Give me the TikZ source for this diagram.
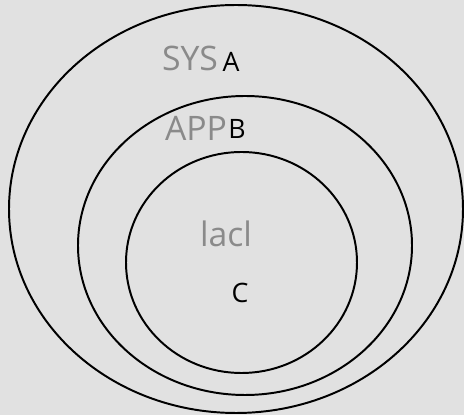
\documentclass[tikz,border=0pt]{standalone}
\usepackage{fontspec}
\setsansfont{Open Sans}
\usepackage{xcolor}
\usepackage{tikz}
\usetikzlibrary{shapes.geometric, positioning}
\definecolor{paper}{HTML}{E1E1E1}
\definecolor{pencil}{HTML}{8A8A8A}

\begin{document}
\begin{tikzpicture}[
    ring/.style={ellipse, draw, line width=1.4pt, inner sep=0pt, outer sep=0pt},
    letter/.style={font=\sffamily\fontsize{19}{22}\selectfont, inner sep=0pt},
    scribble/.style={font=\sffamily\fontsize{24}{28}\selectfont, text=pencil, inner sep=0pt}
]

% Background
\fill[paper] (0,0) rectangle (11.6,-10.375);
\useasboundingbox (0,0) rectangle (11.6,-10.375);

% Rings
\node[ring, minimum width=11.35cm, minimum height=10.2cm] (sys) at (5.9,-5.225) {};
\node[ring, minimum width=8.35cm, minimum height=7.475cm] (app) at (6.125,-6.1375) {};
\node[ring, minimum width=5.775cm, minimum height=5.525cm] (local) at (6.0375,-6.5625) {};

% Handwritten notes
\node[scribble] (sysnote) at (4.75,-1.45) {SYS};
\node[scribble] (appnote) at (4.9,-3.2) {APP};
\node[scribble] (localnote) at (5.65,-5.85) {lacl};

% Letters
\node[letter] (a) at (5.775,-1.56) {A};
\node[letter] (b) at (5.925,-3.225) {B};
\node[letter] (c) at (6.0,-7.325) {C};

\end{tikzpicture}
\end{document}
